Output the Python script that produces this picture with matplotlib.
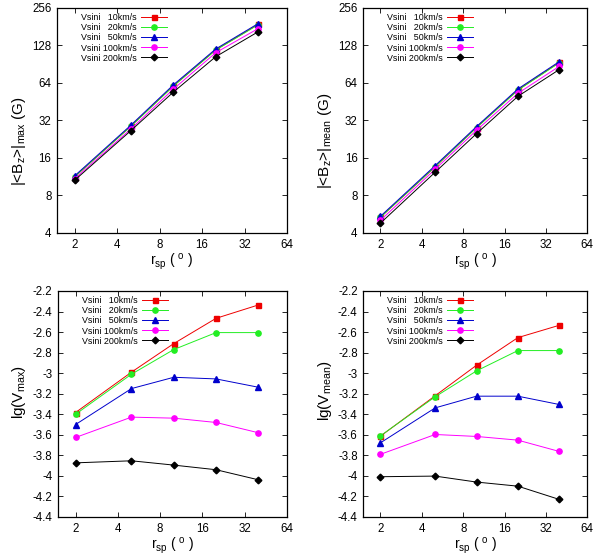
import matplotlib
matplotlib.use("Agg")
import matplotlib.pyplot as plt
from matplotlib.ticker import FixedLocator, FuncFormatter

plt.rcParams['font.family'] = ['Liberation Sans', 'DejaVu Sans']
plt.rcParams['axes.unicode_minus'] = False
plt.rcParams['mathtext.fontset'] = 'custom'
plt.rcParams['mathtext.rm'] = 'Liberation Sans'

r_sp = [2, 5, 10, 20, 40]
labels = ["Vsini \u200710km/s", "Vsini \u200720km/s", "Vsini \u200750km/s",
          "Vsini 100km/s", "Vsini 200km/s"]

# |<Bz>|max (G)
bmax_10 = [11.3, 28.8, 60.5, 118, 189]
bmax_20 = [11.3, 28.7, 60.3, 117.5, 188]
bmax_50 = [11.5, 29.3, 61.7, 120, 192]
bmax_100 = [10.9, 27.3, 57, 112, 175]
bmax_200 = [10.6, 26.5, 54, 104, 165]

# |<Bz>|mean (G)
bmean_10 = [5.35, 13.6, 28.1, 56.3, 93.5]
bmean_20 = [5.35, 13.6, 28.0, 56.0, 93]
bmean_50 = [5.45, 13.9, 28.6, 57.3, 95]
bmean_100 = [5.06, 13.0, 26.7, 52.8, 87]
bmean_200 = [4.8, 12.3, 25.1, 50, 82]

# lg(Vmax)
vmax_10 = [-3.383, -2.99, -2.712, -2.466, -2.336]
vmax_20 = [-3.40, -3.01, -2.77, -2.605, -2.605]
vmax_50 = [-3.50, -3.15, -3.04, -3.056, -3.137]
vmax_100 = [-3.626, -3.428, -3.438, -3.48, -3.58]
vmax_200 = [-3.873, -3.853, -3.895, -3.94, -4.038]

# lg(Vmean)
vmean_10 = [-3.613, -3.22, -2.923, -2.654, -2.534]
vmean_20 = [-3.61, -3.23, -2.978, -2.78, -2.78]
vmean_50 = [-3.678, -3.338, -3.224, -3.224, -3.305]
vmean_100 = [-3.79, -3.597, -3.616, -3.652, -3.762]
vmean_200 = [-4.008, -4.002, -4.06, -4.10, -4.229]

xticks = [2, 4, 8, 16, 32, 64]
bticks = [4, 8, 16, 32, 64, 128, 256]
vticks = [-4.4, -4.2, -4.0, -3.8, -3.6, -3.4, -3.2, -3.0, -2.8, -2.6, -2.4, -2.2]

colors = ['#ee0000', '#22ee22', '#0000cc', '#ff00ff', '#000000']
markers = ['s', 'o', '^', 'o', 'D']
msizes = [3.6, 3.8, 4.0, 3.8, 3.4]

fig = plt.figure(figsize=(6.0, 5.55), dpi=100)

panels = [
    ([0.0950, 0.5802, 0.3833, 0.4054], [bmax_10, bmax_20, bmax_50, bmax_100, bmax_200],
     r'|<B$_\mathregular{z}$>|$_\mathregular{max}$ (G)', True, 0.41),
    ([0.6055, 0.5802, 0.3733, 0.4054], [bmean_10, bmean_20, bmean_50, bmean_100, bmean_200],
     r'|<B$_\mathregular{z}$>|$_\mathregular{mean}$ (G)', True, 0.41),
    ([0.0967, 0.0685, 0.3817, 0.4072], [vmax_10, vmax_20, vmax_50, vmax_100, vmax_200],
     r'lg(V$_\mathregular{max}$)', False, 0.553),
    ([0.6055, 0.0685, 0.3733, 0.4072], [vmean_10, vmean_20, vmean_50, vmean_100, vmean_200],
     r'lg(V$_\mathregular{mean}$)', False, 0.557),
]

fmt = FuncFormatter(lambda v, p: ('%g' % round(v, 3)))

for rect, series, ylab, is_log, ylab_y in panels:
    ax = fig.add_axes(rect)
    for ys, c, m, ms, lab in zip(series, colors, markers, msizes, labels):
        ax.plot(r_sp, ys, color=c, lw=0.7, marker=m, ms=ms, mec=c, mfc=c, label=lab)
    ax.set_xscale('log', base=2)
    ax.set_xlim(1.5, 64)
    ax.xaxis.set_major_locator(FixedLocator(xticks))
    ax.xaxis.set_major_formatter(fmt)
    ax.xaxis.set_minor_locator(FixedLocator([]))
    if is_log:
        ax.set_yscale('log', base=2)
        ax.set_ylim(4, 256)
        ax.yaxis.set_major_locator(FixedLocator(bticks))
        ax.yaxis.set_minor_locator(FixedLocator([]))
    else:
        ax.set_ylim(-4.4, -2.2)
        ax.yaxis.set_major_locator(FixedLocator(vticks))
    ax.yaxis.set_major_formatter(fmt)
    ax.tick_params(direction='in', length=3.5, width=0.6, top=True, right=True,
                   labelsize=8.3, pad=4)
    for s in ax.spines.values():
        s.set_linewidth(0.9)
    ax.set_xlabel(r'r$_\mathregular{sp}$ ( $\mathregular{^o}$ )', fontsize=10, labelpad=1)
    ax.set_ylabel(ylab, fontsize=11, labelpad=3)
    ax.yaxis.label.set_y(ylab_y)
    leg = ax.legend(loc='upper left', bbox_to_anchor=(0.08, 1.0), frameon=False,
                    markerfirst=False, fontsize=6.4, handlelength=2.9,
                    handletextpad=0.5, labelspacing=0.12, borderaxespad=0.3,
                    borderpad=0.3)

fig.savefig('out.png', dpi=100)
